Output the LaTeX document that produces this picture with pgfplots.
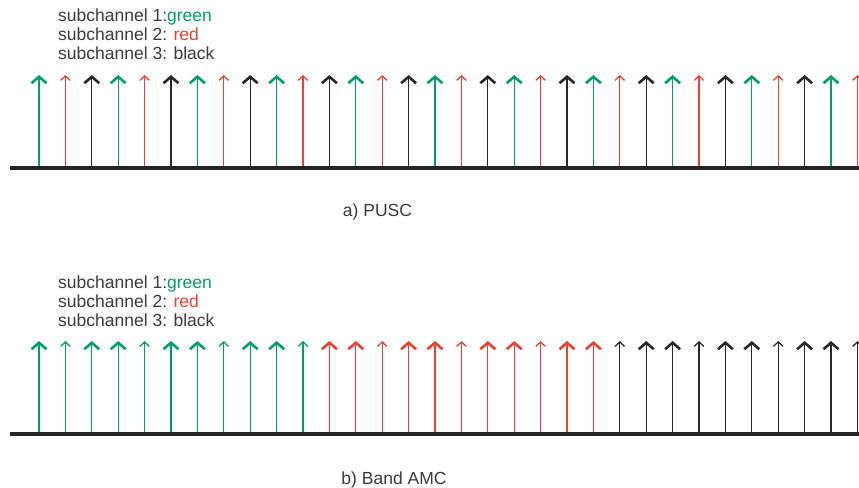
\documentclass[border=0pt]{standalone}
\usepackage{fontspec}
\setmainfont{Liberation Sans}
\usepackage{pgfplots}
\pgfplotsset{compat=1.18}
\usetikzlibrary{arrows.meta}
\definecolor{cgreen}{RGB}{0,160,100}
\definecolor{cred}{RGB}{235,65,50}
\definecolor{cblack}{RGB}{40,40,40}
\definecolor{ctext}{RGB}{60,58,58}
\tikzset{
  bighead/.style={-{Straight Barb[length=6.5bp,width=15bp,line width=2.6bp]}},
  thinhead/.style={-{Straight Barb[length=4.5bp,width=9.5bp,line width=1.3bp]}},
}
\pgfplotsset{
  arr/.style={line width=1.25bp, quiver={u=0,v=1}, mark=none},
  panel/.style={x=26.4bp, y=93bp, hide axis, clip=false,
    xmin=-1.1, xmax=31.5, ymin=0, ymax=1, anchor=south west},
}
\begin{document}
\begin{tikzpicture}
\path[use as bounding box, clip] (0,0) rectangle (859bp,488bp);
\fontsize{17.5bp}{19.5bp}\selectfont
% ---------- a) PUSC ----------
\begin{axis}[panel, at={(9.96bp,320bp)}]
\addplot[arr, cgreen, bighead] coordinates {(0,0) (3,0) (6,0) (9,0) (12,0) (15,0) (18,0) (21,0) (24,0) (27,0) (30,0)};
\addplot[arr, cred, thinhead] coordinates {(1,0) (4,0) (7,0) (10,0) (13,0) (16,0) (19,0) (22,0) (25,0) (28,0) (31,0)};
\addplot[arr, cblack, bighead] coordinates {(2,0) (5,0) (8,0) (11,0) (14,0) (17,0) (20,0) (23,0) (26,0) (29,0)};
\addplot[cblack!90!black, line width=4bp, mark=none] coordinates {(-1.1,0) (31.6,0)};
\end{axis}
% ---------- b) Band AMC ----------
\begin{axis}[panel, at={(9.96bp,54bp)}]
\addplot[arr, cgreen, bighead] coordinates {(0,0) (2,0) (3,0) (5,0) (6,0) (8,0) (9,0)};
\addplot[arr, cgreen, thinhead] coordinates {(1,0) (4,0) (7,0) (10,0)};
\addplot[arr, cred, bighead] coordinates {(11,0) (12,0) (14,0) (15,0) (17,0) (18,0) (20,0) (21,0)};
\addplot[arr, cred, thinhead] coordinates {(13,0) (16,0) (19,0)};
\addplot[arr, cblack, bighead] coordinates {(23,0) (24,0) (26,0) (27,0) (29,0) (30,0)};
\addplot[arr, cblack, thinhead] coordinates {(22,0) (25,0) (28,0) (31,0)};
\addplot[cblack!90!black, line width=4bp, mark=none] coordinates {(-1.1,0) (31.6,0)};
\end{axis}
% ---------- texts ----------
\node[anchor=base west, inner sep=0, text=ctext] at (58bp,466.3bp) {subchannel 1:\textcolor{cgreen}{green}};
\node[anchor=base west, inner sep=0, text=ctext] at (58bp,447.3bp) {subchannel 2: \textcolor{cred}{red}};
\node[anchor=base west, inner sep=0, text=ctext] at (58bp,428.3bp) {subchannel 3: black};
\node[anchor=base, inner sep=0, text=ctext] at (377.5bp,271.5bp) {a) PUSC};
\node[anchor=base west, inner sep=0, text=ctext] at (58bp,199bp) {subchannel 1:\textcolor{cgreen}{green}};
\node[anchor=base west, inner sep=0, text=ctext] at (58bp,180bp) {subchannel 2: \textcolor{cred}{red}};
\node[anchor=base west, inner sep=0, text=ctext] at (58bp,161bp) {subchannel 3: black};
\node[anchor=base, inner sep=0, text=ctext] at (394bp,3.5bp) {b) Band AMC};
\end{tikzpicture}
\end{document}
